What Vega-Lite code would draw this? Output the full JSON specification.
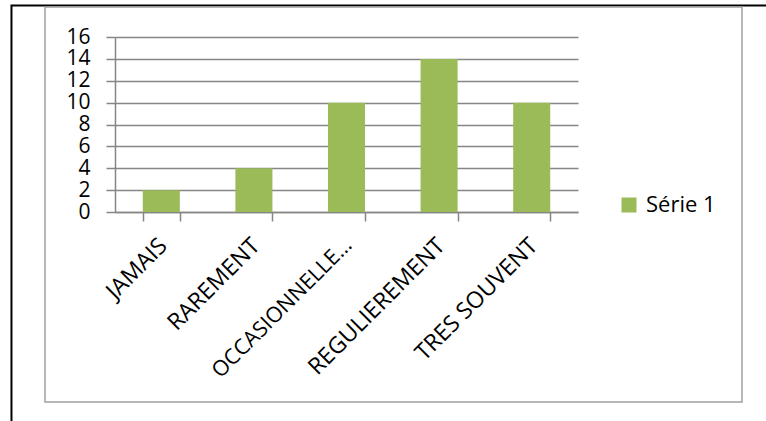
{
  "$schema": "https://vega.github.io/schema/vega-lite/v6.json",
  "autosize": {"type": "none"},
  "width": 463,
  "height": 175,
  "padding": {"left": 115, "top": 37, "right": 188, "bottom": 209},
  "background": "white",
  "config": {
    "view": {"stroke": null},
    "font": "Open Sans"
  },
  "layer": [
    {
      "data": {"values": [{}]},
      "mark": {"type": "rect", "fill": "transparent", "stroke": "#000000", "strokeWidth": 2},
      "encoding": {
        "x": {"datum": -0.2236, "type": "quantitative", "scale": {"domain": [0, 1]}, "axis": null},
        "x2": {"datum": 2},
        "y": {"datum": 1.18, "type": "quantitative", "scale": {"domain": [0, 1]}, "axis": null},
        "y2": {"datum": -2}
      }
    },
    {
      "data": {"values": [{}]},
      "mark": {"type": "rect", "fill": "transparent", "stroke": "#a0a0a0", "strokeWidth": 1.5},
      "encoding": {
        "x": {"datum": -0.1512, "type": "quantitative", "scale": {"domain": [0, 1]}, "axis": null},
        "x2": {"datum": 1.3542},
        "y": {"datum": 1.1714, "type": "quantitative", "scale": {"domain": [0, 1]}, "axis": null},
        "y2": {"datum": -1.0857}
      }
    },
    {
      "data": {
        "values": [
          {"categorie": "JAMAIS", "valeur": 2, "serie": "Série 1"},
          {"categorie": "RAREMENT", "valeur": 4, "serie": "Série 1"},
          {"categorie": "OCCASIONNELLEMENT", "valeur": 10, "serie": "Série 1"},
          {"categorie": "REGULIEREMENT", "valeur": 14, "serie": "Série 1"},
          {"categorie": "TRES SOUVENT", "valeur": 10, "serie": "Série 1"}
        ]
      },
      "mark": {"type": "bar"},
      "encoding": {
        "x": {
          "field": "categorie",
          "type": "nominal",
          "sort": null,
          "scale": {"paddingInner": 0.6, "paddingOuter": 0.3},
          "axis": {
            "title": null,
            "labelAngle": -45,
            "labelAlign": "right",
            "labelBaseline": "top",
            "labelPadding": 13,
            "labelOffset": -6,
            "labelFont": "Open Sans",
            "labelFontSize": {"condition": {"test": "datum.value === 'OCCASIONNELLEMENT'", "value": 21.5}, "value": 23},
            "labelColor": "#000000",
            "labelLimit": 200,
            "labelOverlap": false,
            "tickBand": "extent",
            "tickSize": 9,
            "tickColor": "#868686",
            "tickWidth": 1.5,
            "domainColor": "#868686",
            "domainWidth": 1.5,
            "grid": false
          }
        },
        "y": {
          "field": "valeur",
          "type": "quantitative",
          "scale": {"domain": [0, 16], "nice": false},
          "axis": {
            "title": null,
            "values": [0, 2, 4, 6, 8, 10, 12, 14, 16],
            "grid": true,
            "gridColor": "#868686",
            "gridWidth": 1.5,
            "tickSize": 9,
            "tickColor": "#868686",
            "tickWidth": 1.5,
            "domainColor": "#868686",
            "domainWidth": 1.5,
            "labelFont": "Open Sans",
            "labelFontSize": 21,
            "labelColor": "#000000",
            "labelPadding": 16,
            "labelOverlap": false
          }
        },
        "color": {
          "field": "serie",
          "type": "nominal",
          "scale": {"range": ["#9BBB59"]},
          "legend": {
            "title": null,
            "orient": "none",
            "legendX": 503,
            "legendY": 157,
            "padding": 0,
            "symbolType": "square",
            "symbolSize": 225,
            "symbolStrokeWidth": 0,
            "labelFont": "Open Sans",
            "labelFontSize": 22,
            "labelColor": "#000000",
            "labelOffset": 6
          }
        }
      }
    }
  ],
  "resolve": {"scale": {"x": "independent", "y": "independent", "color": "independent"}}
}
